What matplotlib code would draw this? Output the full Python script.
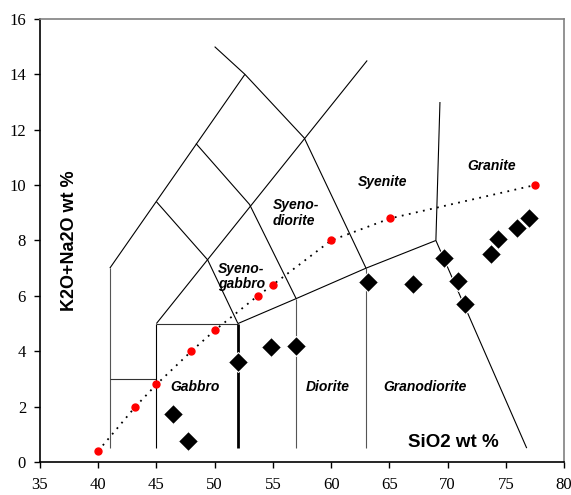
import matplotlib
matplotlib.use('Agg')
import matplotlib.pyplot as plt

# Samples (black diamonds)
sio2 = [46.4, 47.7, 52.0, 54.8, 57.0, 63.2, 67.0, 69.7, 70.9, 71.5, 73.7, 74.3, 76.0, 77.0]
alk = [1.72, 0.77, 3.6, 4.14, 4.2, 6.51, 6.43, 7.35, 6.55, 5.69, 7.5, 8.05, 8.44, 8.82]

# Alkaline / subalkaline divide (red dots, dotted line)
div_x = [40, 43.2, 45, 48, 50, 53.7, 55, 60, 65.1, 77.5]
div_y = [0.4, 2.0, 2.8, 4.0, 4.75, 6.0, 6.4, 8.0, 8.8, 10.0]

# Field boundary polylines (x list, y list)
bound_x = [
    [41, 41], [41, 45], [45, 45], [45, 52], [57, 57], [63, 63],
    [52, 57, 63, 69], [69, 69.35], [69, 76.8], [41, 52.6], [45, 63.1],
    [45, 49.4, 52], [48.4, 53, 57], [50, 52.6, 57.7, 63],
]
bound_y = [
    [0.5, 7], [3, 3], [0.5, 5], [5, 5], [0.5, 5.9], [0.5, 7],
    [5, 5.9, 7, 8], [8, 13], [8, 0.5], [7, 14], [5, 14.5],
    [9.4, 7.3, 5], [11.5, 9.3, 5.9], [15, 14, 11.7, 7],
]
bound_col = ['#555555', '#333333', 'black', '#333333', '#555555', '#555555',
             'black', 'black', 'black', 'black', 'black',
             'black', 'black', 'black']
thick_x = [52, 52]
thick_y = [0.5, 5]

field_names = ["Gabbro", "Diorite", "Granodiorite", "Syeno-\ngabbro",
               "Syeno-\ndiorite", "Syenite", "Granite"]
field_x = [48.3, 59.7, 68.1, 52.3, 55.0, 64.4, 73.8]
field_y = [2.72, 2.72, 2.72, 6.7, 9.0, 10.12, 10.69]
field_ha = ["center", "center", "center", "center", "left", "center", "center"]

xticks = [35, 40, 45, 50, 55, 60, 65, 70, 75, 80]
yticks = [0, 2, 4, 6, 8, 10, 12, 14, 16]

fig = plt.figure(figsize=(5.71, 4.95), dpi=100)
ax = fig.add_axes([0.070, 0.0667, 0.9177, 0.895])

for bx, by, c in zip(bound_x, bound_y, bound_col):
    ax.plot(bx, by, color=c, lw=0.8, solid_capstyle='butt')
ax.plot(thick_x, thick_y, color='black', lw=2.0, solid_capstyle='butt')

ax.plot(div_x, div_y, color='black', lw=1.3, ls=(0, (1, 3)))
ax.plot(div_x, div_y, 'o', color='red', ms=5, mec='red', ls='none')

ax.plot(sio2, alk, 'D', color='black', ms=10.5, mec='white', mew=0.8, ls='none')

for name, x, y, ha in zip(field_names, field_x, field_y, field_ha):
    ax.text(x, y, name, ha=ha, va='center', fontsize=10, fontweight='bold',
            fontstyle='italic', family='Liberation Sans', multialignment='left',
            linespacing=1.15)

ax.text(70.5, 0.69, "SiO2 wt %", ha='center', va='center', fontsize=13.5,
        fontweight='bold', family='Liberation Sans')
ax.text(37.5, 8.0, "K2O+Na2O wt %", ha='center', va='center', fontsize=13,
        fontweight='bold', family='Liberation Sans', rotation=90)

ax.set_xlim(35, 80)
ax.set_ylim(0, 16)
ax.set_xticks(xticks)
ax.set_yticks(yticks)
ax.set_xticklabels([str(t) for t in xticks], family='Liberation Serif', fontsize=12)
ax.set_yticklabels([str(t) for t in yticks], family='Liberation Serif', fontsize=12)
ax.tick_params(direction='out', length=4, width=1, pad=6)
ax.tick_params(axis='x', pad=7)
ax.tick_params(top=False, right=False)
for s in ['left', 'bottom']:
    ax.spines[s].set_color('black')
    ax.spines[s].set_linewidth(1.2)
for s in ['top', 'right']:
    ax.spines[s].set_color('#808080')
    ax.spines[s].set_linewidth(1.2)

fig.savefig('out.png', dpi=100)
